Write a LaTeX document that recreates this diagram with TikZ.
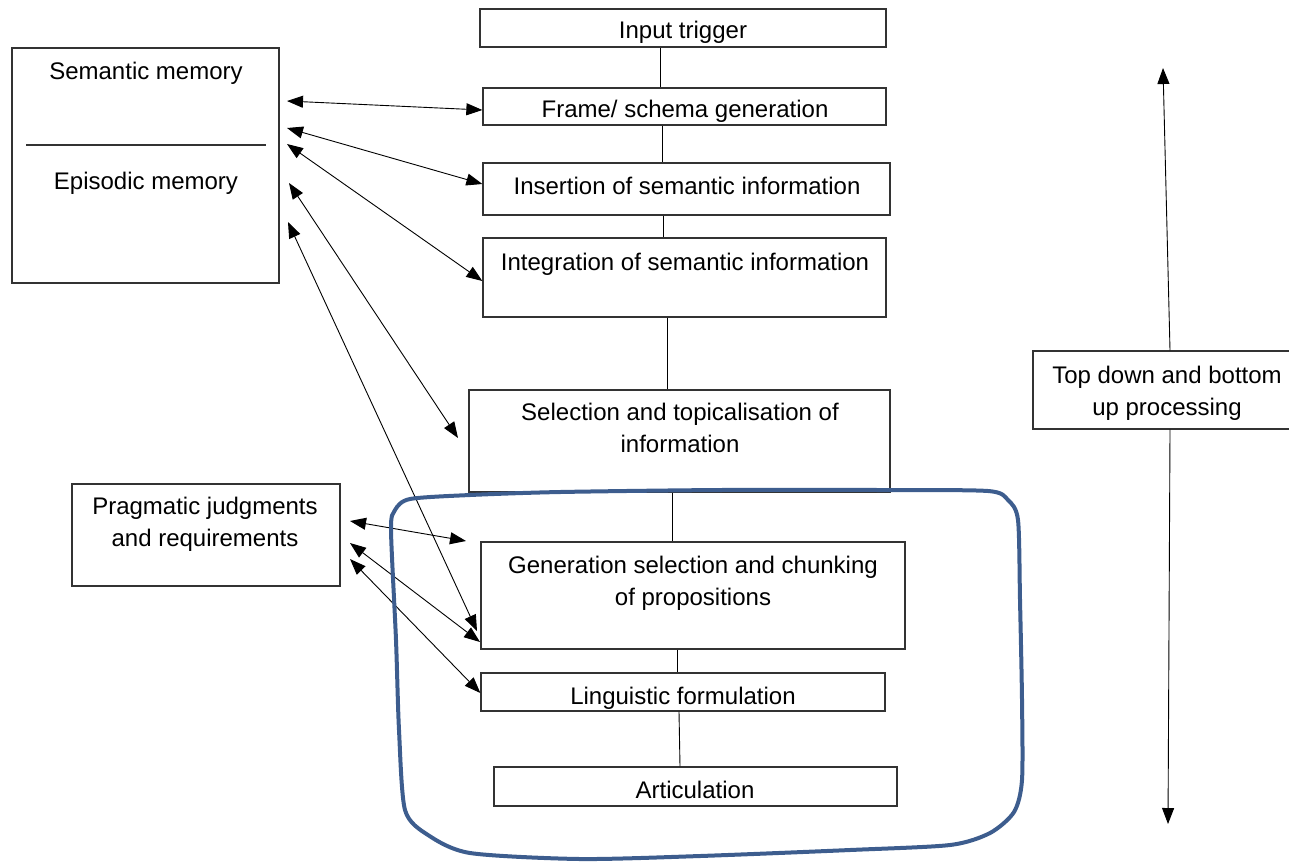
\documentclass[tikz,border=0pt]{standalone}
\usepackage{fontspec}
\setmainfont{Liberation Sans}
\usetikzlibrary{arrows.meta}
\definecolor{loopblue}{HTML}{3D5D8E}
\definecolor{boxline}{HTML}{333333}
\tikzset{
  box/.style={draw=boxline, line width=1.3, fill=white, inner sep=0, minimum width=#1},
  lbl/.style={inner sep=0, anchor=base, align=center, font=\fontsize{24}{32}\selectfont},
  link/.style={draw=black, line width=0.9},
  bighead/.tip={Triangle[length=16pt,width=12pt]},
  tip/.style={-bighead},
  biarrow/.style={draw=black, line width=0.9, bighead-bighead},
  loop/.style={draw=loopblue, line width=4, line join=round, line cap=round}
}
\begin{document}
\begin{tikzpicture}[x=1pt,y=-1pt]
\useasboundingbox (0,0) rectangle (1289,863);

% central chain
\node[box=406, minimum height=38] (b1) at (683,28) {};
\node[box=403, minimum height=37] (b2) at (684.5,106.5) {};
\node[box=407, minimum height=52] (b3) at (686.5,189) {};
\node[box=403, minimum height=79] (b4) at (684.5,277.5) {};
\node[box=421, minimum height=102] (b5) at (679.5,441) {};
\node[box=424, minimum height=107] (b6) at (693,595.5) {};
\node[box=404, minimum height=38] (b7) at (683,692) {};
\node[box=403, minimum height=39] (b8) at (695.5,786.5) {};

% side boxes
\node[box=267, minimum height=235] (mem) at (145.5,165.5) {};
\node[box=268, minimum height=102] (prag) at (206,535) {};
\node[box=260, minimum height=78] (td) at (1163,390) {};

% texts (base anchor = baseline of the last line)
\node[lbl] (t1) at (683,38) {Input trigger};
\node[lbl] (t2) at (685,117) {Frame/ schema generation};
\node[lbl] (t3) at (687,194) {Insertion of semantic information};
\node[lbl] (t4) at (685,270) {Integration of semantic information};
\node[lbl] (t5) at (680,452) {Selection and topicalisation of\\information};
\node[lbl] (t6) at (693,605) {Generation selection and chunking\\of propositions};
\node[lbl] (t7) at (683,704) {Linguistic formulation};
\node[lbl] (t8) at (695,798) {Articulation};
\node[lbl] (tm1) at (146,79) {Semantic memory};
\node[lbl] (tm2) at (146,189) {Episodic memory};
\node[lbl] (tp) at (205,546) {Pragmatic judgments\\and requirements};
\node[lbl] (ttd) at (1167,415) {Top down and bottom\\up processing};

% divider in memory box
\coordinate (dl) at (26,145);
\coordinate (dr) at (266,145);
\draw[draw=boxline, line width=1.6] (dl) -- (dr);

% vertical links
\draw[link] ([xshift=-23]b1.south) -- ([xshift=-24.5]b2.north);
\draw[link] ([xshift=-22.5]b2.south) -- ([xshift=-24.5]b3.north);
\draw[link] ([xshift=-23.5]b3.south) -- ([xshift=-21.5]b4.north);
\draw[link] ([xshift=-17.5]b4.south) -- ([xshift=-12.5]b5.north);
\draw[link] ([xshift=-7.5]b5.south) -- ([xshift=-21]b6.north);
\draw[link] ([xshift=-16]b6.south) -- ([xshift=-6]b7.north);
\draw[link] ([xshift=-4]b7.south) -- ([xshift=-15.5]b8.north);

% memory arrows
\coordinate (m1) at (287,101);
\coordinate (m2) at (287,128);
\coordinate (m3) at (287,144);
\coordinate (m4) at (289,183);
\coordinate (m5) at (288,222);
\coordinate (e4) at (458,438);
\coordinate (e5) at (477,631);
\draw[biarrow] (m1) -- ([yshift=-3.5]b2.west);
\draw[biarrow] (m2) -- ([yshift=5]b3.west);
\draw[biarrow] (m3) -- ([yshift=-3.5]b4.west);
\draw[biarrow] (m4) -- (e4);
\draw[biarrow] (m5) -- (e5);

% pragmatic arrows
\coordinate (p1) at (350,521);
\coordinate (p2) at (350,543);
\coordinate (p3) at (350,559);
\coordinate (q1) at (466,541);
\coordinate (q2) at (480,642);
\draw[biarrow] (p1) -- (q1);
\draw[biarrow] (p2) -- (q2);
\draw[biarrow] (p3) -- ([yshift=-1]b7.west);

% top-down / bottom-up arrow
\coordinate (up) at (1163,68);
\coordinate (down) at (1168,824);
\draw[link, tip] ([xshift=7]td.north) -- (up);
\draw[link, tip] ([xshift=7]td.south) -- (down);

% hand-drawn loop
\draw[loop] plot[smooth cycle, tension=0.45] coordinates {
 (391,530) (395,510) (410,499) (470,495) (560,492) (720,490) (880,490)
 (988,491) (1008,500) (1018,520) (1020,600) (1022,700) (1022,780)
 (1014,812) (990,833) (950,845) (850,850) (700,856) (580,859)
 (470,853) (428,835) (405,810) (399,730) (396,640)
};
\end{tikzpicture}
\end{document}
